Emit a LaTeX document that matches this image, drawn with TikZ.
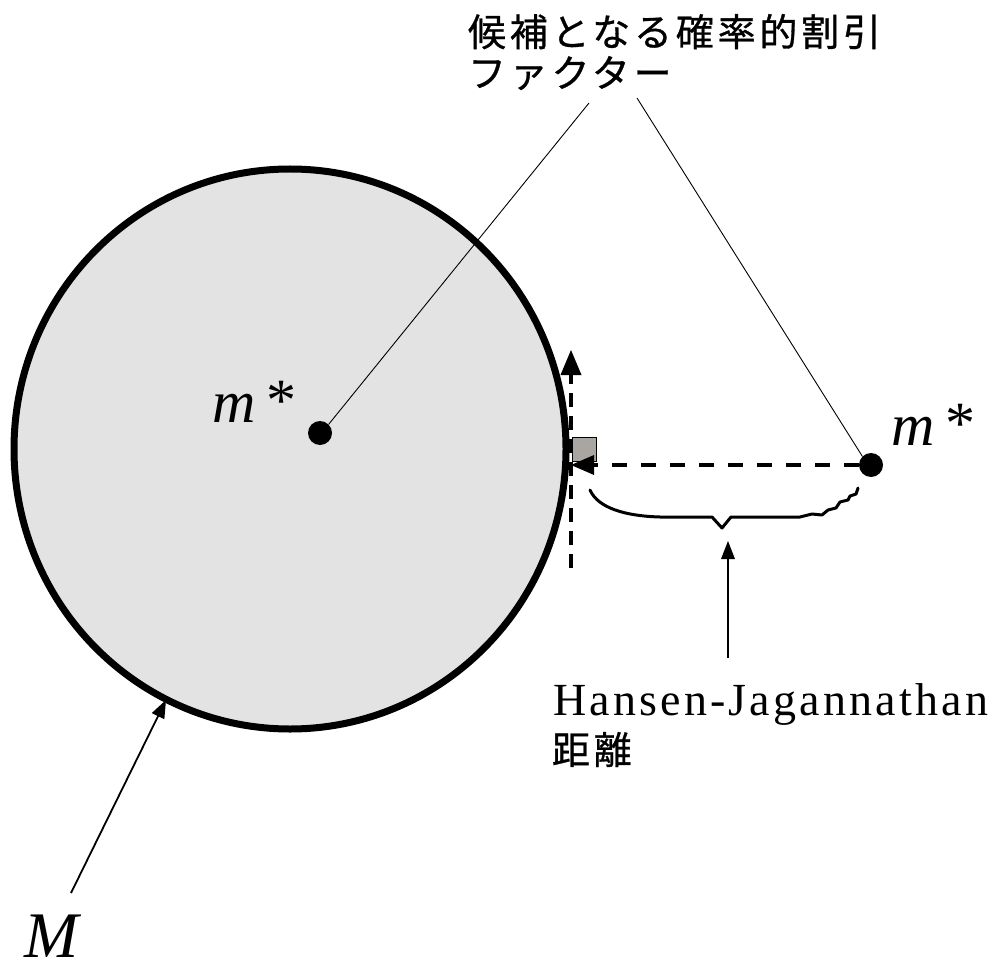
\documentclass[tikz,border=0pt]{standalone}
\usepackage{fontspec}
\setmainfont{Liberation Serif}
\newfontfamily\cjk[LetterSpace=10,FakeBold=0.8]{Noto Sans CJK JP}
\newfontfamily\serifsp[LetterSpace=7]{Liberation Serif}
\usetikzlibrary{calc,shapes.geometric}
\definecolor{setfill}{HTML}{E3E3E3}
\definecolor{boxfill}{HTML}{A9A5A1}
\tikzset{
  dot/.style={circle,fill=black,inner sep=0pt,minimum size=24pt},
  leader/.style={line width=0.9pt},
  dashline/.style={line width=4pt,dash pattern=on 15pt off 14pt,shorten >=18pt},
  vdash/.style={line width=4pt,dash pattern=on 14pt off 9pt,shorten >=18pt},
  thinline/.style={line width=1.8pt,shorten >=12pt},
  lbl/.style={inner sep=0pt,outer sep=0pt},
}
% filled triangular tip: #1 tip, #2 direction source, #3 length, #4 half width
\newcommand\mytip[4]{%
  \path ($(#1)!#3!(#2)$) coordinate (tb);
  \fill ($(tb)!#4!90:(#1)$) -- (#1) -- ($(tb)!#4!-90:(#1)$) -- cycle;}
\begin{document}
\begin{tikzpicture}[x=1pt,y=-1pt]
\useasboundingbox (0,0) rectangle (1003,965);
% set M
\node[ellipse,draw=black,fill=setfill,line width=7pt,minimum width=552pt,minimum height=560pt,inner sep=0pt] (setM) at (290,449) {};
% dots
\node[dot] (d1) at (320,433) {};
\node[dot] (d2) at (871,465) {};
% labels
\node[lbl,anchor=base west,font=\fontsize{60}{60}\selectfont] (m1) at (212,422) {\textit{m}\hspace{11pt}\raisebox{2pt}{*}};
\node[lbl,anchor=base west,font=\fontsize{60}{60}\selectfont] (m2) at (891,445) {\textit{m}\hspace{11pt}\raisebox{2pt}{*}};
\node[lbl,anchor=base west,font=\fontsize{65}{65}\selectfont] (Mlab) at (24,957) {\textit{M}};
\node[lbl,anchor=north west,align=left,font=\fontsize{38}{41}\selectfont\cjk] (cand) at (468,14) {候補となる確率的割引\\ファクター};
\node[lbl,anchor=base west,font=\fontsize{46}{46}\selectfont\serifsp] (hj) at (553,715) {Hansen-Jagannathan};
\node[lbl,anchor=north west,font=\fontsize{38}{38}\selectfont\cjk] (dist) at (552,732) {距離};
% coordinates
\coordinate (c1) at (589,103);
\coordinate (c2) at (637,98);
\coordinate (tan) at (571,465);
\coordinate (vtop) at (571,350);
\coordinate (vbot) at (571,568);
\coordinate (bracetip) at (722,528);
\coordinate (hjfoot) at (728,658);
\coordinate (hjtip) at (728,541);
\coordinate (mfoot) at (71,893);
\coordinate (mtip) at (166,700);
% leaders
\draw[leader] (c1) -- (d1.north east);
\draw[leader] (c2) -- (d2.north west);
% gray square
\node[draw=black,fill=boxfill,line width=0.9pt,minimum size=24pt,inner sep=0pt,anchor=north west] (sq) at (572,437) {};
% dashed projections
\draw[dashline] (d2.west) -- (tan);
\mytip{tan}{d2}{23pt}{10pt}
\draw[vdash] (vbot) -- (vtop);
\mytip{vtop}{vbot}{25pt}{10.5pt}
% brace
\draw[line width=3pt,line cap=round,line join=round]
  (590,490) .. controls (598,508) and (625,516) .. (660,517)
  -- (712,517) -- (bracetip) -- (731,517) -- (800,517)
  -- (812,514) -- (822,515) -- (828,510) -- (836,508) -- (840,502) -- (848,500) -- (850,496) -- (856,494) -- (858,488);
% arrows
\draw[thinline] (hjfoot) -- (hjtip);
\mytip{hjtip}{hjfoot}{18pt}{7pt}
\draw[thinline] (mfoot) -- (mtip);
\mytip{mtip}{mfoot}{18pt}{7pt}
\end{tikzpicture}
\end{document}
